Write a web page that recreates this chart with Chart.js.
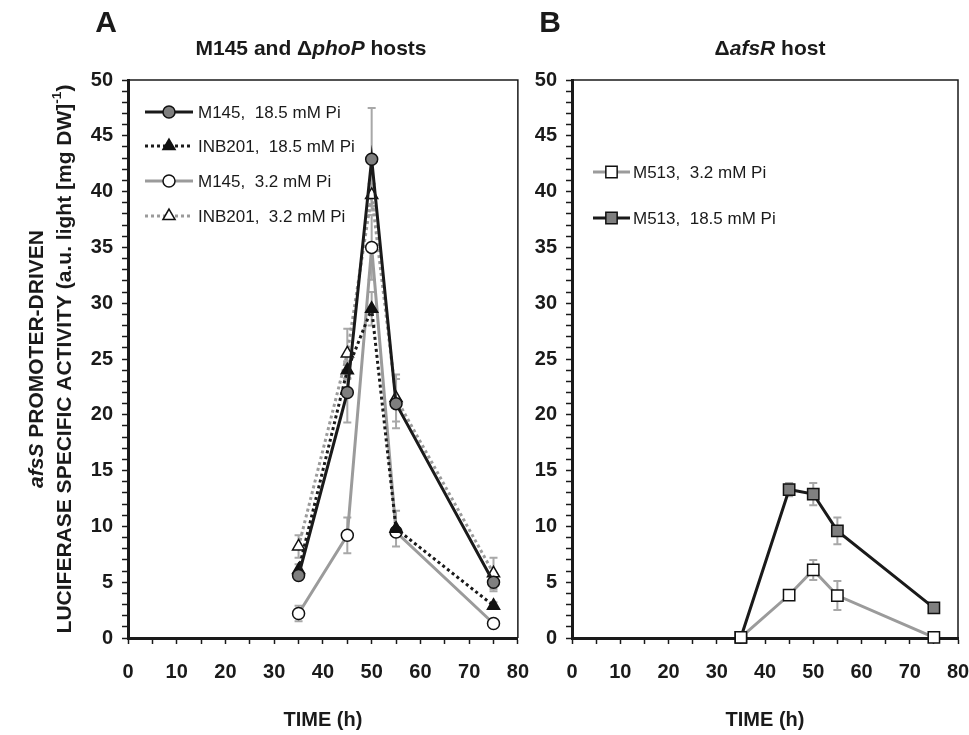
<!DOCTYPE html>
<html>
<head>
<meta charset="utf-8">
<script src="https://cdn.jsdelivr.net/npm/chart.js@4.4.1/dist/chart.umd.min.js"></script>
<style>
  html, body { margin: 0; padding: 0; background: #fff; }
  #wrap { position: relative; width: 969px; height: 735px; overflow: hidden; }
  canvas { position: absolute; top: 0; }
</style>
</head>
<body>
<div id="wrap">
  <canvas id="chartA" width="545" height="735" style="left:0"></canvas>
  <canvas id="chartB" width="469" height="735" style="left:520px"></canvas>
</div>
<script>
/* =======================
   Data
======================= */
const times = [35, 45, 50, 55, 75];
const xTickLabels = [0, 10, 20, 30, 40, 50, 60, 70, 80];
const yTickLabels = [0, 5, 10, 15, 20, 25, 30, 35, 40, 45, 50];

// panel A: M145 and phoP hosts
const m145High = [5.6, 22.0, 42.9, 21.0, 5.0];
const m145HighErr = [0.4, 2.7, 4.6, 2.2, 0.8];
const inb201High = [6.1, 24.0, 29.5, 9.8, 2.9];
const inb201HighErr = [0.5, 0.8, 1.5, 1.6, 0.3];
const m145Low = [2.2, 9.2, 35.0, 9.5, 1.3];
const m145LowErr = [0.7, 1.6, 2.9, 0.4, 0.2];
const inb201Low = [8.2, 25.5, 39.7, 21.5, 5.8];
const inb201LowErr = [1.0, 2.2, 1.0, 2.1, 1.4];

// panel B: afsR host
const m513Low = [0.05, 3.85, 6.1, 3.8, 0.05];
const m513LowErr = [0, 0.2, 0.9, 1.3, 0];
const m513High = [0.05, 13.3, 12.9, 9.6, 2.7];
const m513HighErr = [0, 0.6, 1.0, 1.2, 0];

const FONT = "'Liberation Sans', Arial, sans-serif";
const BLACK = "#1a1a1a";
const GRAY = "#9b9b9b";
const MARK = "#7f7f7f";
const ERR = "#a8a8a8";

/* =======================
   Helpers
======================= */
function series(label, ys, errs, o) {
  return {
    label,
    data: times.map((t, i) => ({ x: t, y: ys[i] })),
    errs,
    borderColor: o.line,
    borderWidth: 3,
    borderDash: o.dash || [],
    borderCapStyle: "butt",
    pointStyle: o.shape,
    pointRadius: o.r,
    pointHoverRadius: o.r,
    pointBackgroundColor: o.fill,
    pointBorderColor: "#111",
    pointBorderWidth: 1.5,
    tension: 0,
    clip: false,
    fill: false
  };
}

function richWidth(ctx, parts, size) {
  let w = 0;
  parts.forEach(p => {
    ctx.font = (p.it ? "italic " : "") + "bold " + (p.sup ? size * 0.65 : size) + "px " + FONT;
    w += ctx.measureText(p.t).width;
  });
  return w;
}

function drawRich(ctx, parts, cx, cy, size) {
  let x = cx - richWidth(ctx, parts, size) / 2;
  ctx.textBaseline = "middle";
  ctx.textAlign = "left";
  ctx.fillStyle = BLACK;
  parts.forEach(p => {
    ctx.font = (p.it ? "italic " : "") + "bold " + (p.sup ? size * 0.65 : size) + "px " + FONT;
    ctx.fillText(p.t, x, p.sup ? cy - size * 0.35 : cy);
    x += ctx.measureText(p.t).width;
  });
}

function drawMarker(ctx, ds, x, y) {
  ctx.fillStyle = ds.pointBackgroundColor;
  ctx.strokeStyle = ds.pointBorderColor;
  ctx.lineWidth = ds.pointBorderWidth;
  ctx.setLineDash([]);
  Chart.helpers.drawPoint(ctx, { pointStyle: ds.pointStyle, radius: ds.pointRadius, rotation: 0, borderWidth: ds.pointBorderWidth }, x, y);
}

/* =======================
   Plugins
======================= */
const errorBars = {
  id: "errorBars",
  beforeDatasetsDraw(chart) {
    const ctx = chart.ctx;
    const xs = chart.scales.x, ys = chart.scales.y;
    ctx.save();
    ctx.strokeStyle = ERR;
    ctx.lineWidth = 2;
    chart.data.datasets.forEach(ds => {
      ds.data.forEach((p, i) => {
        const e = ds.errs[i];
        if (!e) return;
        const px = xs.getPixelForValue(p.x);
        const top = ys.getPixelForValue(p.y + e);
        const bot = ys.getPixelForValue(Math.max(0, p.y - e));
        ctx.beginPath();
        ctx.moveTo(px, top); ctx.lineTo(px, bot);
        ctx.moveTo(px - 4, top); ctx.lineTo(px + 4, top);
        ctx.moveTo(px - 4, bot); ctx.lineTo(px + 4, bot);
        ctx.stroke();
      });
    });
    ctx.restore();
  }
};

const frame = {
  id: "frame",
  afterDraw(chart) {
    const { left, right, top, bottom } = chart.chartArea;
    const ctx = chart.ctx;
    ctx.save();
    ctx.strokeStyle = BLACK;
    ctx.lineWidth = 1.5;
    ctx.beginPath();
    ctx.moveTo(left, top); ctx.lineTo(right, top); ctx.lineTo(right, bottom);
    ctx.stroke();
    ctx.restore();
  }
};

function legendPlugin(x0, x1, textX, rows) {
  return {
    id: "legendBox",
    afterDraw(chart) {
      const ctx = chart.ctx;
      ctx.save();
      chart.data.datasets.forEach((ds, i) => {
        const y = rows[i];
        ctx.strokeStyle = ds.borderColor;
        ctx.lineWidth = 3;
        ctx.setLineDash(ds.borderDash);
        ctx.beginPath();
        ctx.moveTo(x0, y); ctx.lineTo(x1, y);
        ctx.stroke();
        drawMarker(ctx, ds, (x0 + x1) / 2, y);
        ctx.fillStyle = BLACK;
        ctx.font = "17px " + FONT;
        ctx.textAlign = "left";
        ctx.textBaseline = "middle";
        ctx.fillText(ds.label, textX, y + 1);
      });
      ctx.restore();
    }
  };
}

function textPlugin(drawFn) {
  return { id: "texts", afterDraw(chart) { chart.ctx.save(); drawFn(chart.ctx, chart); chart.ctx.restore(); } };
}

function options(yWidth, padRight) {
  return {
    responsive: false,
    animation: false,
    layout: { padding: { left: 0, top: 80, right: padRight, bottom: 0 } },
    plugins: { legend: { display: false }, tooltip: { enabled: false } },
    scales: {
      x: {
        type: "linear", min: 0, max: 80,
        afterFit: s => { s.height = 97; },
        grid: { drawOnChartArea: false, tickLength: 6, tickWidth: 1.5, tickColor: BLACK },
        border: { width: 3, color: BLACK },
        ticks: {
          stepSize: 5, autoSkip: false, maxRotation: 0, padding: 16, color: BLACK,
          font: { family: FONT, size: 20, weight: "bold" },
          callback: v => xTickLabels.includes(v) ? v : ""
        }
      },
      y: {
        min: 0, max: 50,
        afterFit: s => { s.width = yWidth; },
        grid: { drawOnChartArea: false, tickLength: 6, tickWidth: 1.5, tickColor: BLACK },
        border: { width: 3, color: BLACK },
        ticks: {
          stepSize: 1, maxTicksLimit: 60, autoSkip: false, padding: 9, color: BLACK,
          font: { family: FONT, size: 20, weight: "bold" },
          callback: v => yTickLabels.includes(v) ? v : ""
        }
      }
    }
  };
}

/* =======================
   Panel A
======================= */
new Chart(document.getElementById("chartA"), {
  type: "line",
  data: {
    datasets: [
      series("M145,  18.5 mM Pi", m145High, m145HighErr, { line: BLACK, shape: "circle", r: 6, fill: MARK }),
      series("INB201,  18.5 mM Pi", inb201High, inb201HighErr, { line: BLACK, dash: [3, 3], shape: "triangle", r: 7, fill: "#111" }),
      series("M145,  3.2 mM Pi", m145Low, m145LowErr, { line: GRAY, shape: "circle", r: 6, fill: "#fff" }),
      series("INB201,  3.2 mM Pi", inb201Low, inb201LowErr, { line: GRAY, dash: [3, 3], shape: "triangle", r: 7, fill: "#fff" })
    ]
  },
  options: options(128, 27),
  plugins: [
    errorBars, frame,
    legendPlugin(145, 193, 198, [112, 146, 181, 216]),
    textPlugin((ctx, chart) => {
      ctx.fillStyle = BLACK;
      ctx.font = "bold 30px " + FONT;
      ctx.textAlign = "center";
      ctx.textBaseline = "middle";
      ctx.fillText("A", 106, 24);
      drawRich(ctx, [{ t: "M145 and \u0394" }, { t: "phoP", it: true }, { t: " hosts" }], 311, 49, 21);
      drawRich(ctx, [{ t: "TIME (h)" }], (chart.chartArea.left + chart.chartArea.right) / 2, 720, 20);
      ctx.translate(37, 359);
      ctx.rotate(-Math.PI / 2);
      drawRich(ctx, [{ t: "afsS", it: true }, { t: " PROMOTER-DRIVEN" }], 0, 0, 21);
      drawRich(ctx, [{ t: "LUCIFERASE SPECIFIC ACTIVITY (a.u. light [mg DW]" }, { t: "-1", sup: true }, { t: ")" }], 0, 28, 21);
    })
  ]
});

/* =======================
   Panel B
======================= */
new Chart(document.getElementById("chartB"), {
  type: "line",
  data: {
    datasets: [
      series("M513,  3.2 mM Pi", m513Low, m513LowErr, { line: GRAY, shape: "rect", r: 8, fill: "#fff" }),
      series("M513,  18.5 mM Pi", m513High, m513HighErr, { line: BLACK, shape: "rect", r: 8, fill: MARK })
    ]
  },
  options: options(52, 31),
  plugins: [
    errorBars, frame,
    legendPlugin(73, 110, 113, [172, 218]),
    textPlugin((ctx, chart) => {
      ctx.fillStyle = BLACK;
      ctx.font = "bold 30px " + FONT;
      ctx.textAlign = "center";
      ctx.textBaseline = "middle";
      ctx.fillText("B", 30, 24);
      drawRich(ctx, [{ t: "\u0394" }, { t: "afsR", it: true }, { t: " host" }], 250, 49, 21);
      drawRich(ctx, [{ t: "TIME (h)" }], (chart.chartArea.left + chart.chartArea.right) / 2, 720, 20);
    })
  ]
});
</script>
</body>
</html>
